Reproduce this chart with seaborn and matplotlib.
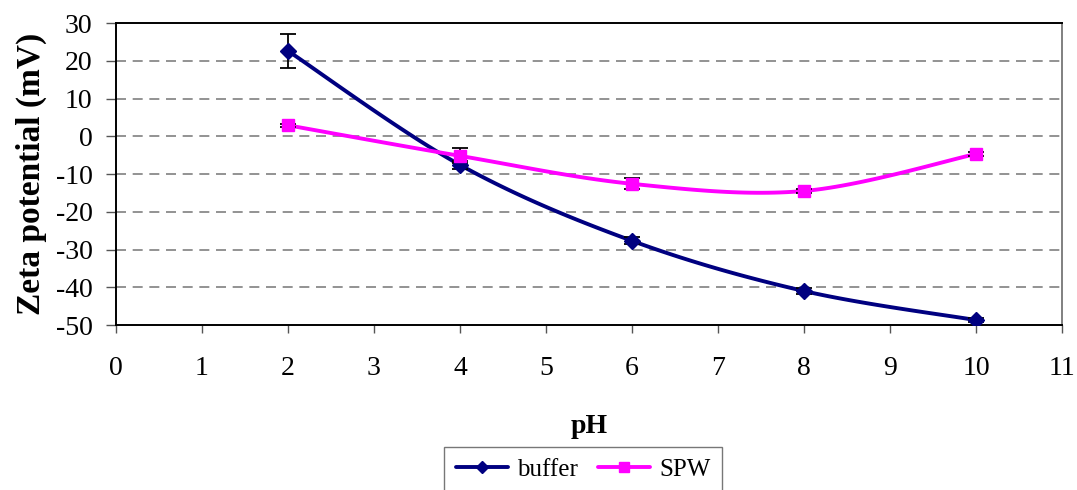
import numpy as np
import pandas as pd
import matplotlib
matplotlib.use("Agg")
import matplotlib.pyplot as plt
import seaborn as sns
from matplotlib.lines import Line2D

# ---- data ----
ph = [2, 4, 6, 8, 10]
buffer_zeta = [22.6, -7.6, -27.7, -41.0, -48.7]
buffer_err = [4.6, 1.0, 0.9, 0.7, 0.5]
spw_zeta = [2.9, -5.2, -12.6, -14.5, -4.7]
spw_err = [0.4, 2.0, 1.5, 0.6, 0.4]
series_names = ["buffer", "SPW"]
x_ticks = list(range(0, 12))
y_ticks = list(range(-50, 31, 10))

sns.set_theme(style="white")
plt.rcParams['font.family'] = ['Liberation Serif', 'DejaVu Serif']
plt.rcParams['axes.unicode_minus'] = False
plt.rcParams['text.color'] = 'black'
plt.rcParams['axes.labelcolor'] = 'black'
plt.rcParams['xtick.color'] = 'black'
plt.rcParams['ytick.color'] = 'black'


def smooth(xs, ys, n=30):
    """Excel-like smoothed line (Catmull-Rom) for drawing only."""
    xs = np.asarray(xs, float)
    ys = np.asarray(ys, float)
    P = np.column_stack([xs, ys])
    P = np.vstack([P[0], P, P[-1]])
    out = []
    t = np.linspace(0, 1, n)[:, None]
    for i in range(1, len(P) - 2):
        p0, p1, p2, p3 = P[i - 1], P[i], P[i + 1], P[i + 2]
        seg = 0.5 * (2 * p1 + (-p0 + p2) * t + (2 * p0 - 5 * p1 + 4 * p2 - p3) * t ** 2
                     + (-p0 + 3 * p1 - 3 * p2 + p3) * t ** 3)
        out.append(seg if i == 1 else seg[1:])
    out = np.vstack(out)
    return out[:, 0], out[:, 1]


fig = plt.figure(figsize=(10.77, 4.90), dpi=100)
ax = fig.add_axes([116 / 1077, 1 - 325 / 490, (1062 - 116) / 1077, (325 - 23) / 490])

colors = ["#000080", "#FF00FF"]
markers = ["D", "s"]
msizes = [8.5, 8.5]
datasets = [(buffer_zeta, buffer_err), (spw_zeta, spw_err)]

for name, (vals, errs), c, m, ms in zip(series_names, datasets, colors, markers, msizes):
    sx, sy = smooth(ph, vals)
    df = pd.DataFrame({"pH": sx, "zeta": sy})
    sns.lineplot(data=df, x="pH", y="zeta", ax=ax, color=c, lw=2.8, sort=False,
                 estimator=None, zorder=3)
    ax.errorbar(ph, vals, yerr=errs, fmt="none", ecolor="black", elinewidth=1.3,
                capsize=6, capthick=1.3, zorder=4)
    ax.plot(ph, vals, linestyle="none", marker=m, color=c, markersize=ms, zorder=5)

handles = [Line2D([], [], color=c, lw=2.8, marker=m, markersize=6.5)
           for c, m in zip(colors, markers)]
leg = fig.legend(handles, series_names, loc="upper center",
                 bbox_to_anchor=(583 / 1077, 1 - 447 / 490), ncol=2, frameon=True,
                 fontsize=18, handlelength=2.1, columnspacing=0.8, handletextpad=0.35,
                 borderpad=0.45, borderaxespad=0.0, fancybox=False, edgecolor="#555555")
leg.get_frame().set_linewidth(1.0)

ax.set_xlim(0, 11)
ax.set_ylim(-50, 30)
ax.set_xticks(x_ticks)
ax.set_yticks(y_ticks)
ax.tick_params(axis="both", direction="out", width=1, labelsize=20,
               bottom=True, left=True)
ax.tick_params(axis="x", length=6, pad=16, color="#555555")
ax.tick_params(axis="y", length=7, pad=10, color="#555555")
for yv in y_ticks[1:-1]:
    ax.axhline(yv, color="#808080", lw=1.2, ls=(0, (6, 4)), zorder=1)

for s in ["left", "bottom", "top"]:
    ax.spines[s].set_color("black")
    ax.spines[s].set_linewidth(1.4)
ax.spines["right"].set_color("#808080")
ax.spines["right"].set_linewidth(1.4)

ax.set_xlabel("pH", fontsize=20, fontweight="bold", labelpad=24)
ax.set_ylabel("Zeta potential (mV)", fontsize=24, fontweight="bold", labelpad=6)

fig.savefig("out.png", dpi=100)
